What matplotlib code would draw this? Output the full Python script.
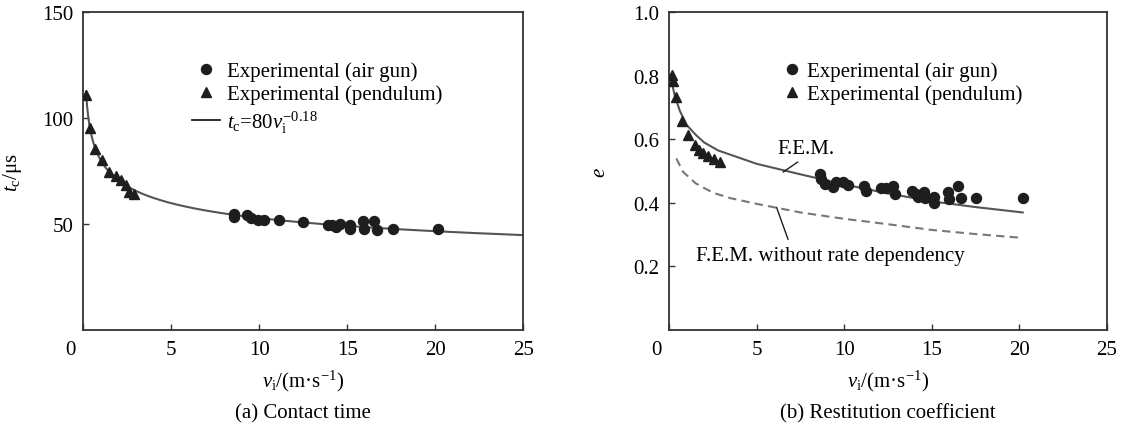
import numpy as np
import matplotlib
matplotlib.use('Agg')
import matplotlib.pyplot as plt
import matplotlib.transforms as mtransforms
from matplotlib.lines import Line2D

plt.rcParams['font.family'] = ['Liberation Serif', 'DejaVu Serif']
plt.rcParams['mathtext.fontset'] = 'custom'
plt.rcParams['mathtext.rm'] = 'Liberation Serif'
plt.rcParams['mathtext.it'] = 'Liberation Serif:italic'
plt.rcParams['font.size'] = 15

### data: (a) contact time
pend_v = [0.17, 0.38, 0.68, 1.08, 1.48, 1.83, 2.15, 2.42, 2.62, 2.88]
pend_t = [111.0, 95.3, 85.3, 80.5, 74.8, 72.9, 70.8, 68.5, 65.0, 64.4]
gun_v = [8.58, 8.58, 9.30, 9.50, 9.95, 10.27, 11.09, 12.51, 13.93, 14.14,
         14.34, 14.58, 15.15, 15.15, 15.91, 15.97, 16.52, 16.66, 17.58, 20.18]
gun_t = [54.8, 53.2, 54.3, 52.9, 52.1, 52.1, 52.1, 50.8, 49.7, 49.6,
         48.5, 50.1, 49.6, 47.7, 51.6, 47.7, 51.6, 47.4, 47.7, 47.7]
fit_a = 80
fit_b = -0.18

### data: (b) restitution coefficient
pend_v_e = [0.14, 0.20, 0.36, 0.73, 1.08, 1.45, 1.68, 1.94, 2.24, 2.56, 2.88]
pend_e = [0.804, 0.785, 0.733, 0.659, 0.613, 0.582, 0.567, 0.556, 0.548, 0.539, 0.528]
gun_v_e = [8.62, 8.66, 8.88, 9.34, 9.51, 9.93, 10.23, 11.10, 11.27, 12.10,
           12.40, 12.81, 12.90, 13.88, 14.08, 14.22, 14.58, 14.60, 15.11, 15.12,
           15.93, 16.00, 16.49, 16.69, 17.53, 20.20]
gun_e = [0.491, 0.475, 0.460, 0.451, 0.467, 0.467, 0.458, 0.454, 0.439, 0.446,
         0.446, 0.454, 0.428, 0.436, 0.428, 0.418, 0.433, 0.414, 0.420, 0.401,
         0.434, 0.412, 0.452, 0.415, 0.415, 0.415]
fem_v = [0.1, 0.3, 0.6, 1.0, 1.5, 2.0, 2.8, 5.0, 7.5, 10.0, 12.5, 15.0, 17.5, 20.2]
fem_e = [0.79, 0.74, 0.69, 0.645, 0.615, 0.59, 0.565, 0.523, 0.49, 0.458, 0.43, 0.405, 0.387, 0.37]
fem_nr_v = [0.4, 0.8, 1.5, 2.5, 3.5, 5.0, 7.5, 10.0, 12.5, 15.0, 17.5, 20.2]
fem_nr_e = [0.54, 0.497, 0.462, 0.432, 0.415, 0.397, 0.37, 0.35, 0.333, 0.315, 0.302, 0.29]

dark = '#1e1e1e'
grey = '#555555'

fig = plt.figure(figsize=(11.23, 4.27), dpi=100)
ax1 = fig.add_axes([0.0742, 0.2248, 0.3918, 0.744])
ax2 = fig.add_axes([0.5960, 0.2248, 0.3895, 0.744])

def style_axes(ax):
    for sp in ax.spines.values():
        sp.set_linewidth(1.3)
        sp.set_color('#333333')
    ax.tick_params(direction='in', length=4, width=1.0, color='#333333',
                   labelsize=15, pad=7, top=False, right=False)
    ax.set_xlim(0, 25)
    ax.set_xticks([0, 5, 10, 15, 20, 25])
    # origin label sits a little left of the corner
    lab0 = ax.get_xticklabels()[0]
    lab0.set_transform(lab0.get_transform() +
                       mtransforms.ScaledTranslation(-13 / 100, 0, fig.dpi_scale_trans))

### (a)
v_fit = np.linspace(0.15, 25, 400)
ax1.plot(v_fit, fit_a * v_fit ** fit_b, color=grey, lw=1.5, zorder=2)
ax1.plot(gun_v, gun_t, 'o', color=dark, ms=7.2, zorder=3)
ax1.plot(pend_v, pend_t, '^', color=dark, ms=7.8, zorder=3)
ax1.set_ylim(0, 150)
ax1.set_yticks([50, 100, 150])
style_axes(ax1)
ax1.set_ylabel(r'$t_\mathrm{c}$/μs', fontsize=15)
ax1.yaxis.set_label_coords(-0.134, 0.5)
ax1.set_xlabel(r'$v_\mathrm{i}$/(m·s$^{-1}$)', fontsize=15)
ax1.xaxis.set_label_coords(0.5, -0.118)
ax1.text(0.5, -0.26, '(a) Contact time', transform=ax1.transAxes,
         ha='center', va='center', fontsize=15)

h1 = [Line2D([], [], ls='none', marker='o', color=dark, ms=7.2),
      Line2D([], [], ls='none', marker='^', color=dark, ms=7.8),
      Line2D([], [], color=dark, lw=1.3)]
l1 = ['Experimental (air gun)', 'Experimental (pendulum)',
      r'$t_\mathrm{c}$=80$v_\mathrm{i}^{-0.18}$']
ax1.legend(h1, l1, loc='upper left', bbox_to_anchor=(0.246, 0.846), frameon=False,
           borderpad=0, borderaxespad=0, handlelength=1.35, handletextpad=0.35,
           labelspacing=0.18, fontsize=15)

### (b)
ax2.plot(fem_v, fem_e, color=grey, lw=1.5, zorder=2)
ax2.plot(fem_nr_v, fem_nr_e, color='#777777', lw=1.5, ls=(0, (4, 2.5)), zorder=2)
ax2.plot(gun_v_e, gun_e, 'o', color=dark, ms=7.2, zorder=3)
ax2.plot(pend_v_e, pend_e, '^', color=dark, ms=7.8, zorder=3)
ax2.set_ylim(0, 1.0)
ax2.set_yticks([0.2, 0.4, 0.6, 0.8, 1.0])
ax2.set_yticklabels(['0.2', '0.4', '0.6', '0.8', '1.0'])
style_axes(ax2)
ax2.set_ylabel(r'$e$', fontsize=15)
ax2.yaxis.set_label_coords(-0.136, 0.5)
ax2.set_xlabel(r'$v_\mathrm{i}$/(m·s$^{-1}$)', fontsize=15)
ax2.xaxis.set_label_coords(0.5, -0.118)
ax2.text(0.5, -0.26, '(b) Restitution coefficient', transform=ax2.transAxes,
         ha='center', va='center', fontsize=15)

ax2.annotate('F.E.M.', xy=(6.5, 0.497), xytext=(7.8, 0.57), ha='center', va='center',
             fontsize=15, arrowprops=dict(arrowstyle='-', color=dark, lw=1.0,
                                          relpos=(0.45, 0.0), shrinkA=1, shrinkB=0))
ax2.annotate('F.E.M. without rate dependency', xy=(6.13, 0.386), xytext=(1.55, 0.234),
             ha='left', va='center', fontsize=15,
             arrowprops=dict(arrowstyle='-', color=dark, lw=1.0,
                             relpos=(0.35, 1.0), shrinkA=3, shrinkB=0))

h2 = h1[:2]
ax2.legend(h2, l1[:2], loc='upper left', bbox_to_anchor=(0.256, 0.846), frameon=False,
           borderpad=0, borderaxespad=0, handlelength=1.0, handletextpad=0.25,
           labelspacing=0.18, fontsize=15)

fig.savefig('out.png', dpi=100)
